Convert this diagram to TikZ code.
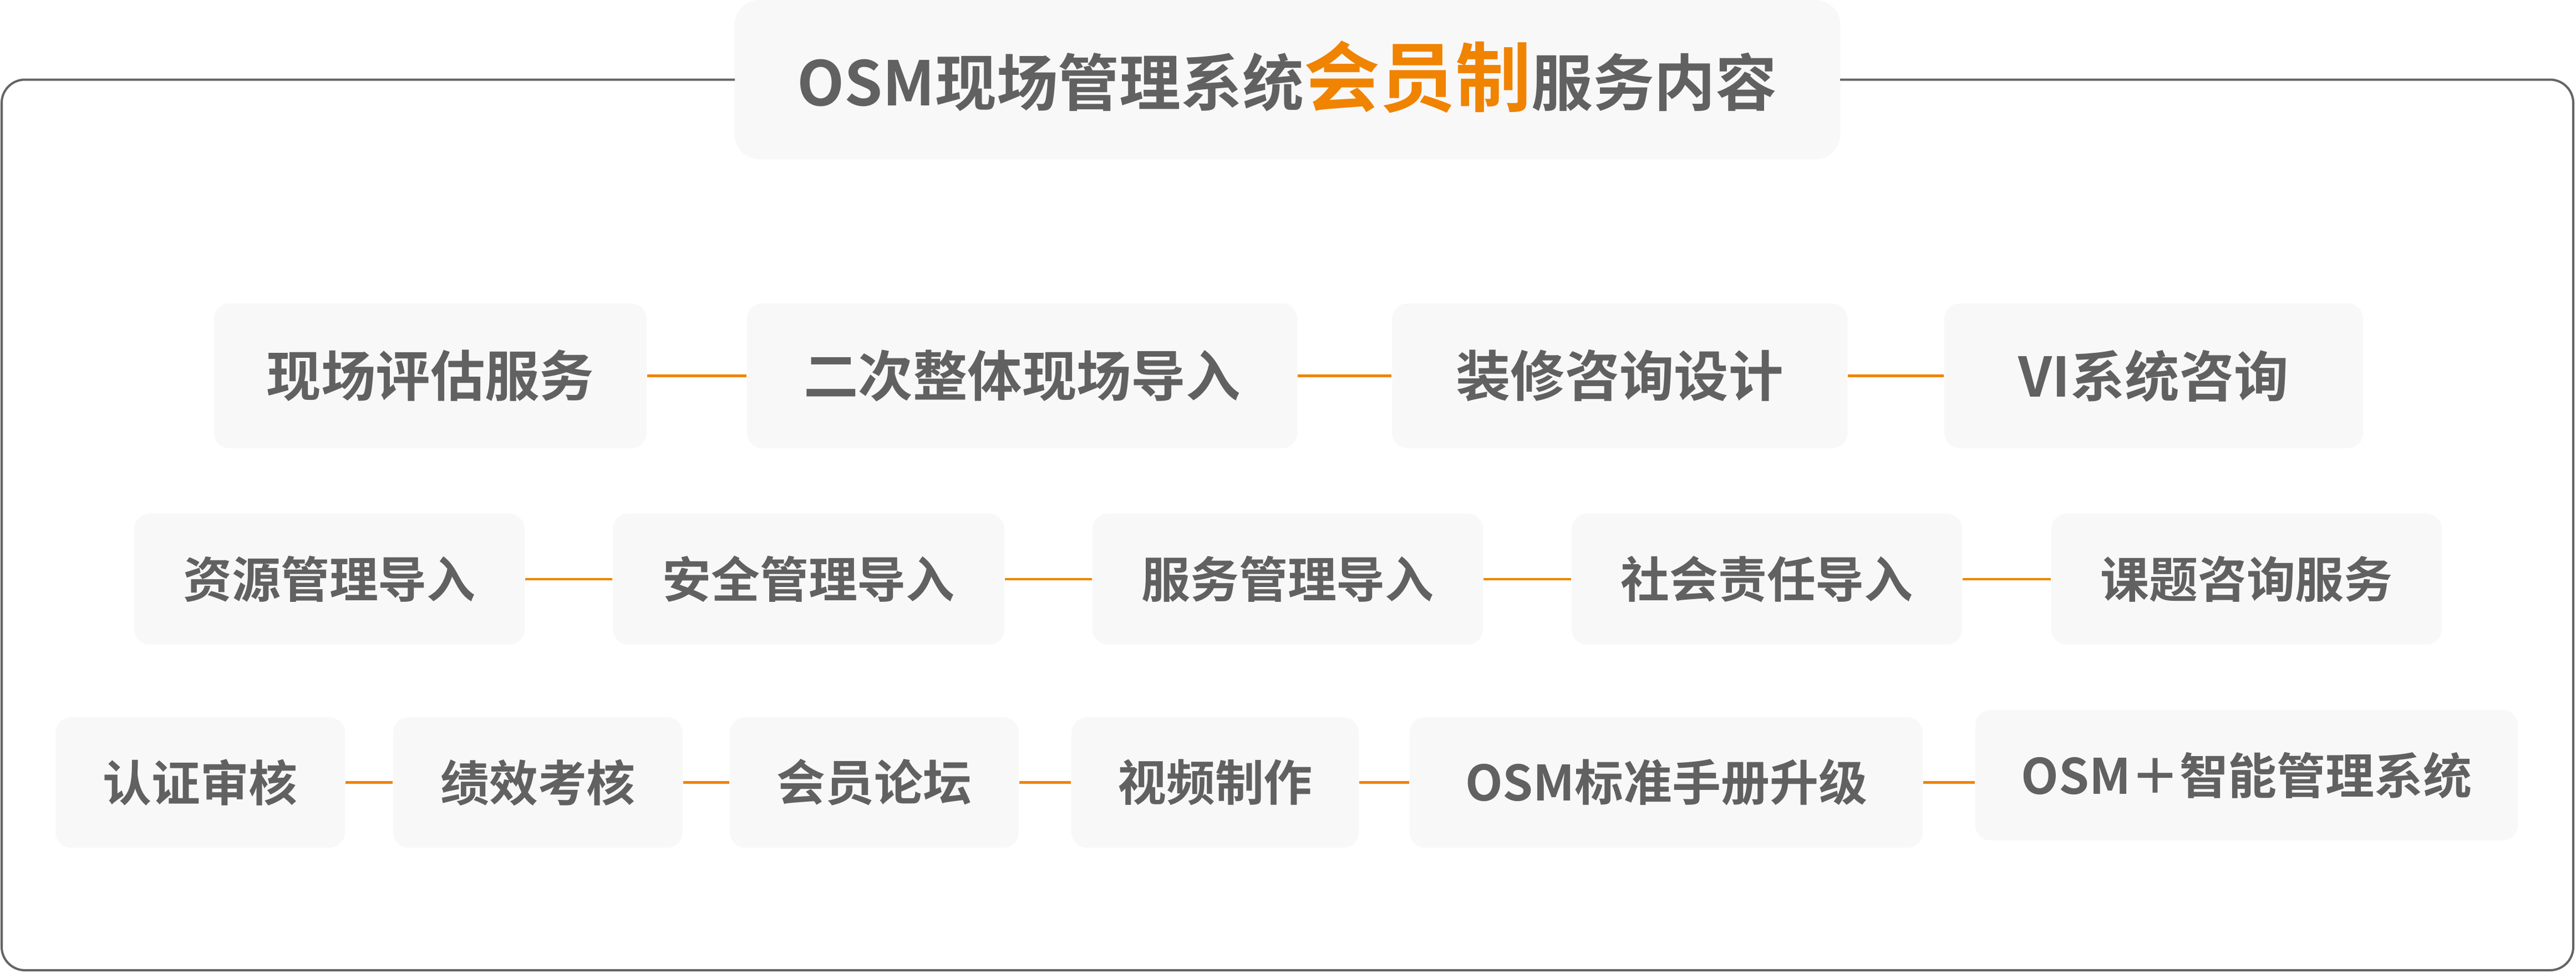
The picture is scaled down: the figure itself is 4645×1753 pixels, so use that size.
\documentclass[tikz,border=0pt]{standalone}
\usepackage{fontspec}
\setmainfont{Noto Sans CJK SC}[BoldFont={Noto Sans CJK SC Bold}]
\definecolor{txtgray}{HTML}{616161}
\definecolor{framegray}{HTML}{646464}
\definecolor{boxfill}{HTML}{F8F8F8}
\definecolor{accent}{HTML}{F08300}
\tikzset{
  svc/.style={fill=boxfill, rounded corners=0.28cm, inner sep=0pt, text=txtgray,
    font=\bfseries\fontsize{25pt}{30pt}\selectfont},
  svcbig/.style={svc, font=\bfseries\fontsize{28pt}{32pt}\selectfont},
  link/.style={draw=accent, line width=1.22pt},
}
\begin{document}
\begin{tikzpicture}[x=0.01cm,y=-0.01cm]
\useasboundingbox (0,0) rectangle (4645,1753);
% title box
\node[fill=boxfill, rounded corners=0.45cm, inner sep=0pt, minimum width=19.93cm, minimum height=2.87cm] (title) at (2321.5,143.5) {};
\node[text=txtgray, font=\bfseries\fontsize{31.5pt}{36pt}\selectfont, inner sep=0pt] (titletext) at (2321,139)
  {OSM现场管理系统{\color{accent}\fontsize{38.9pt}{42pt}\selectfont 会员制}服务内容};
% frame
\coordinate (fl) at (1325,143.5);
\coordinate (fr) at (3318,143.5);
\draw[framegray, line width=1.14pt, rounded corners=0.42cm]
  (fl) -- (3,143.5) -- (3,1749) -- (4640,1749) -- (4640,143.5) -- (fr);
% row 1
\node[svcbig, minimum width=7.80cm, minimum height=2.61cm] (b11) at (776,677.5) {现场评估服务};
\node[svcbig, minimum width=9.92cm, minimum height=2.61cm] (b12) at (1843,677.5) {二次整体现场导入};
\node[svcbig, minimum width=8.21cm, minimum height=2.61cm] (b13) at (2920.5,677.5) {装修咨询设计};
\node[svcbig, minimum width=7.55cm, minimum height=2.61cm] (b14) at (3883.5,677.5) {VI系统咨询};
% row 2
\node[svc, minimum width=7.04cm, minimum height=2.36cm] (b21) at (594,1044) {资源管理导入};
\node[svc, minimum width=7.06cm, minimum height=2.36cm] (b22) at (1458,1044) {安全管理导入};
\node[svc, minimum width=7.04cm, minimum height=2.36cm] (b23) at (2322,1044) {服务管理导入};
\node[svc, minimum width=7.04cm, minimum height=2.36cm] (b24) at (3186,1044) {社会责任导入};
\node[svc, minimum width=7.04cm, minimum height=2.36cm] (b25) at (4051,1044) {课题咨询服务};
% row 3
\node[svc, minimum width=5.22cm, minimum height=2.35cm] (b31) at (361,1410.5) {认证审核};
\node[svc, minimum width=5.22cm, minimum height=2.35cm] (b32) at (970,1410.5) {绩效考核};
\node[svc, minimum width=5.21cm, minimum height=2.35cm] (b33) at (1576.5,1410.5) {会员论坛};
\node[svc, minimum width=5.18cm, minimum height=2.35cm] (b34) at (2191,1410.5) {视频制作};
\node[svc, minimum width=9.25cm, minimum height=2.35cm] (b35) at (3004.5,1410.5) {OSM标准手册升级};
\node[svc, minimum width=9.78cm, minimum height=2.35cm] (b36) at (4051,1397.5) {OSM＋智能管理系统};
% connectors
\draw[link] (b11.east) -- (b12.west);
\draw[link] (b12.east) -- (b13.west);
\draw[link] (b13.east) -- (b14.west);
\draw[link] (b21.east) -- (b22.west);
\draw[link] (b22.east) -- (b23.west);
\draw[link] (b23.east) -- (b24.west);
\draw[link] (b24.east) -- (b25.west);
\draw[link] (b31.east) -- (b32.west);
\draw[link] (b32.east) -- (b33.west);
\draw[link] (b33.east) -- (b34.west);
\draw[link] (b34.east) -- (b35.west);
\draw[link] (b35.east) -- (b35.east -| b36.west);
\end{tikzpicture}
\end{document}
